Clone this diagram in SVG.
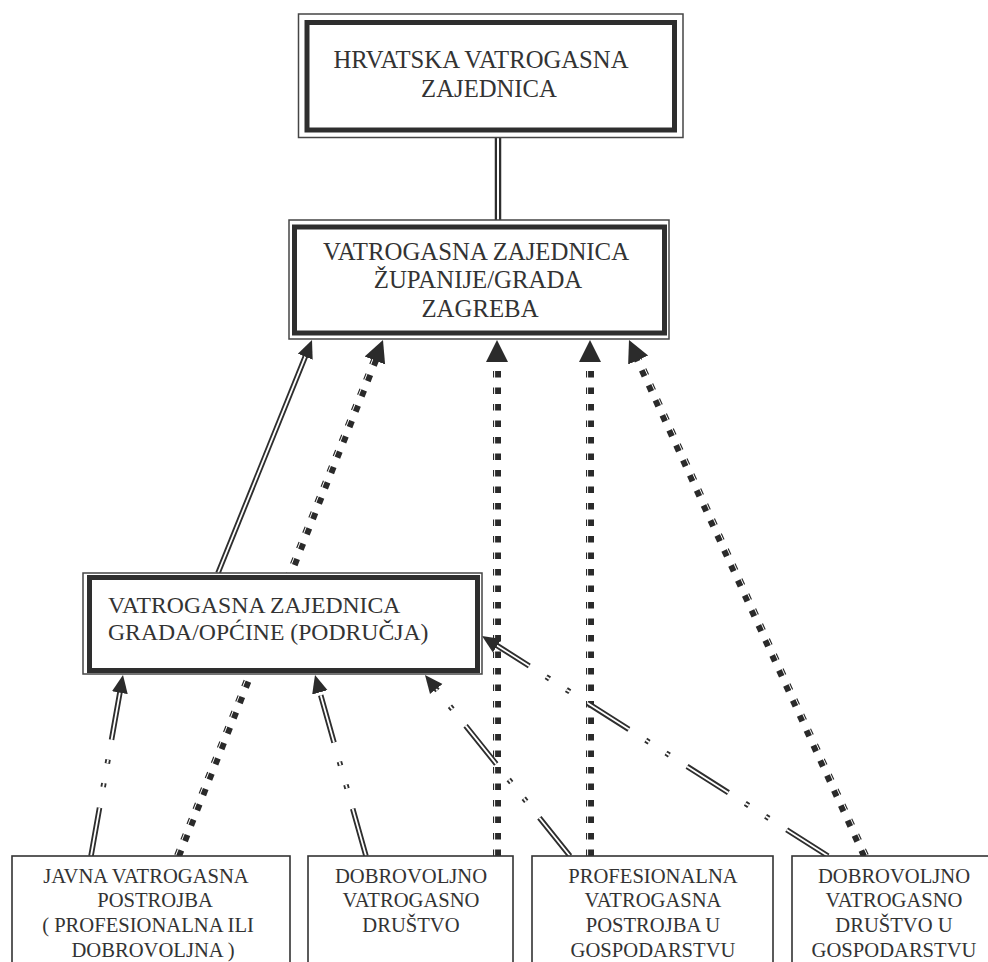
<svg xmlns="http://www.w3.org/2000/svg" width="988" height="962" viewBox="0 0 988 962">
<defs>
<style>
.t{font-family:"Liberation Serif","Times New Roman",serif;fill:#333;}
.c{text-anchor:middle}
.f24{font-size:24.7px}
.f25{font-size:24.8px}
.f23{font-size:23.7px}
.f20{font-size:20.6px}
.fo{fill:#fff;stroke:#454545;stroke-width:1.5}
.fi{fill:none;stroke:#2e2e2e;stroke-width:5}
.box{fill:#fff;stroke:#333;stroke-width:1.6}
.dd{fill:none;stroke:#2e2e2e;stroke-width:5.5}
.dw{fill:none;stroke:#fff;stroke-width:1.8}
.ddd{stroke-dasharray:49 21 4 20 4 20}
.hv{fill:none;stroke:#2a2a2a;stroke-width:8;stroke-dasharray:6.5 10}
.hw{fill:none;stroke:#fff;stroke-width:1}
.tip{fill:none;stroke:none}
</style>
<marker id="big" markerUnits="userSpaceOnUse" markerWidth="24" markerHeight="24" viewBox="0 0 24 24" refX="22" refY="12" orient="auto">
<path d="M0,1 L22,12 L0,23 Z" fill="#2b2b2b"/>
</marker>
<marker id="sm" markerUnits="userSpaceOnUse" markerWidth="20" markerHeight="20" viewBox="0 0 20 20" refX="18" refY="10" orient="auto">
<path d="M0,2 L18,10 L0,18 Z" fill="#2b2b2b"/>
</marker>
</defs>
<rect width="988" height="962" fill="#fff"/>

<g id="connectors">
  <g id="c-top">
    <path class="dd" d="M498,137 L498,220" style="stroke-width:6.5"/>
    <path class="dw" d="M498,137 L498,220" style="stroke-width:2"/>
  </g>
  <g id="c-city-county">
    <path class="dd" d="M218,573 L307.5,351.1"/>
    <path class="dw" d="M218,573 L307.5,351.1"/>
    <path class="tip" d="M218,573 L312,340" marker-end="url(#sm)"/>
  </g>
  <g id="c-jvp-county">
    <path class="hv" d="M178,856 L378.6,351.2"/>
    <path class="hw" d="M175.8,855.2 L376.4,350.3"/>
    <path class="tip" d="M178,856 L383,340" marker-end="url(#big)"/>
  </g>
  <g id="c-dvd-county">
    <path class="hv" d="M497,856 L497,352"/>
    <path class="hw" d="M494.6,856 L494.6,352"/>
    <path class="tip" d="M497,856 L497,340" marker-end="url(#big)"/>
  </g>
  <g id="c-pvp-county">
    <path class="hv" d="M590,856 L590,352"/>
    <path class="hw" d="M587.6,856 L587.6,352"/>
    <path class="tip" d="M590,856 L590,340" marker-end="url(#big)"/>
  </g>
  <g id="c-dvdg-county">
    <path class="hv" d="M865,856 L634,350.9"/>
    <path class="hw" d="M867.2,855 L636.2,350"/>
    <path class="tip" d="M865,856 L629,340" marker-end="url(#big)"/>
  </g>
  <g id="c-jvp-city">
    <path class="dd ddd" d="M91,856 L120.9,686.8"/>
    <path class="dw ddd" d="M91,856 L120.9,686.8"/>
    <path class="tip" d="M91,856 L123,675" marker-end="url(#sm)"/>
  </g>
  <g id="c-dvd-city">
    <path class="dd ddd" d="M366,856 L318.3,686.6"/>
    <path class="dw ddd" d="M366,856 L318.3,686.6"/>
    <path class="tip" d="M366,856 L315,675" marker-end="url(#sm)"/>
  </g>
  <g id="c-pvp-city">
    <path class="dd ddd" d="M570,856 L432.5,684.4"/>
    <path class="dw ddd" d="M570,856 L432.5,684.4"/>
    <path class="tip" d="M570,856 L425,675" marker-end="url(#sm)"/>
  </g>
  <g id="c-dvdg-city">
    <path class="dd ddd" d="M828,856 L492.1,642.4"/>
    <path class="dw ddd" d="M828,856 L492.1,642.4"/>
    <path class="tip" d="M828,856 L482,636" marker-end="url(#sm)"/>
  </g>
</g>

<g id="n-hvz">
  <rect class="fo" x="298.5" y="14" width="384.5" height="123.5"/>
  <rect class="fi" x="307" y="22.5" width="367.5" height="107.5"/>
  <text class="t f24 c" x="481" y="68">HRVATSKA VATROGASNA</text>
  <text class="t f24 c" x="489" y="97">ZAJEDNICA</text>
</g>

<g id="n-vzz">
  <rect class="fo" x="289" y="220" width="380" height="119"/>
  <rect class="fi" x="294.5" y="227" width="370" height="106"/>
  <text class="t f25 c" x="476" y="260">VATROGASNA ZAJEDNICA</text>
  <text class="t f25 c" x="478" y="288">ŽUPANIJE/GRADA</text>
  <text class="t f25 c" x="480" y="317">ZAGREBA</text>
</g>

<g id="n-vzg">
  <rect class="fo" x="83" y="573" width="399" height="101"/>
  <rect class="fi" x="89.5" y="577.5" width="388" height="93"/>
  <text class="t f23" x="108" y="613">VATROGASNA ZAJEDNICA</text>
  <text class="t f23" x="108" y="640">GRADA/OPĆINE (PODRUČJA)</text>
</g>

<g id="n-jvp">
  <rect class="box" x="12" y="856" width="278" height="120"/>
  <text class="t f20 c" x="146" y="883">JAVNA VATROGASNA</text>
  <text class="t f20 c" x="155" y="907">POSTROJBA</text>
  <text class="t f20 c" x="148" y="932">( PROFESIONALNA ILI</text>
  <text class="t f20 c" x="153" y="957">DOBROVOLJNA )</text>
</g>

<g id="n-dvd">
  <rect class="box" x="308" y="856" width="205" height="120"/>
  <text class="t f20 c" x="411" y="883">DOBROVOLJNO</text>
  <text class="t f20 c" x="411" y="907">VATROGASNO</text>
  <text class="t f20 c" x="411" y="932">DRUŠTVO</text>
</g>

<g id="n-pvp">
  <rect class="box" x="532" y="856" width="241" height="120"/>
  <text class="t f20 c" x="653" y="883">PROFESIONALNA</text>
  <text class="t f20 c" x="653" y="907">VATROGASNA</text>
  <text class="t f20 c" x="653" y="932">POSTROJBA U</text>
  <text class="t f20 c" x="653" y="957">GOSPODARSTVU</text>
</g>

<g id="n-dvdg">
  <rect class="box" x="792" y="856" width="210" height="120"/>
  <text class="t f20 c" x="894" y="883">DOBROVOLJNO</text>
  <text class="t f20 c" x="894" y="907">VATROGASNO</text>
  <text class="t f20 c" x="894" y="932">DRUŠTVO U</text>
  <text class="t f20 c" x="894" y="957">GOSPODARSTVU</text>
</g>
</svg>
